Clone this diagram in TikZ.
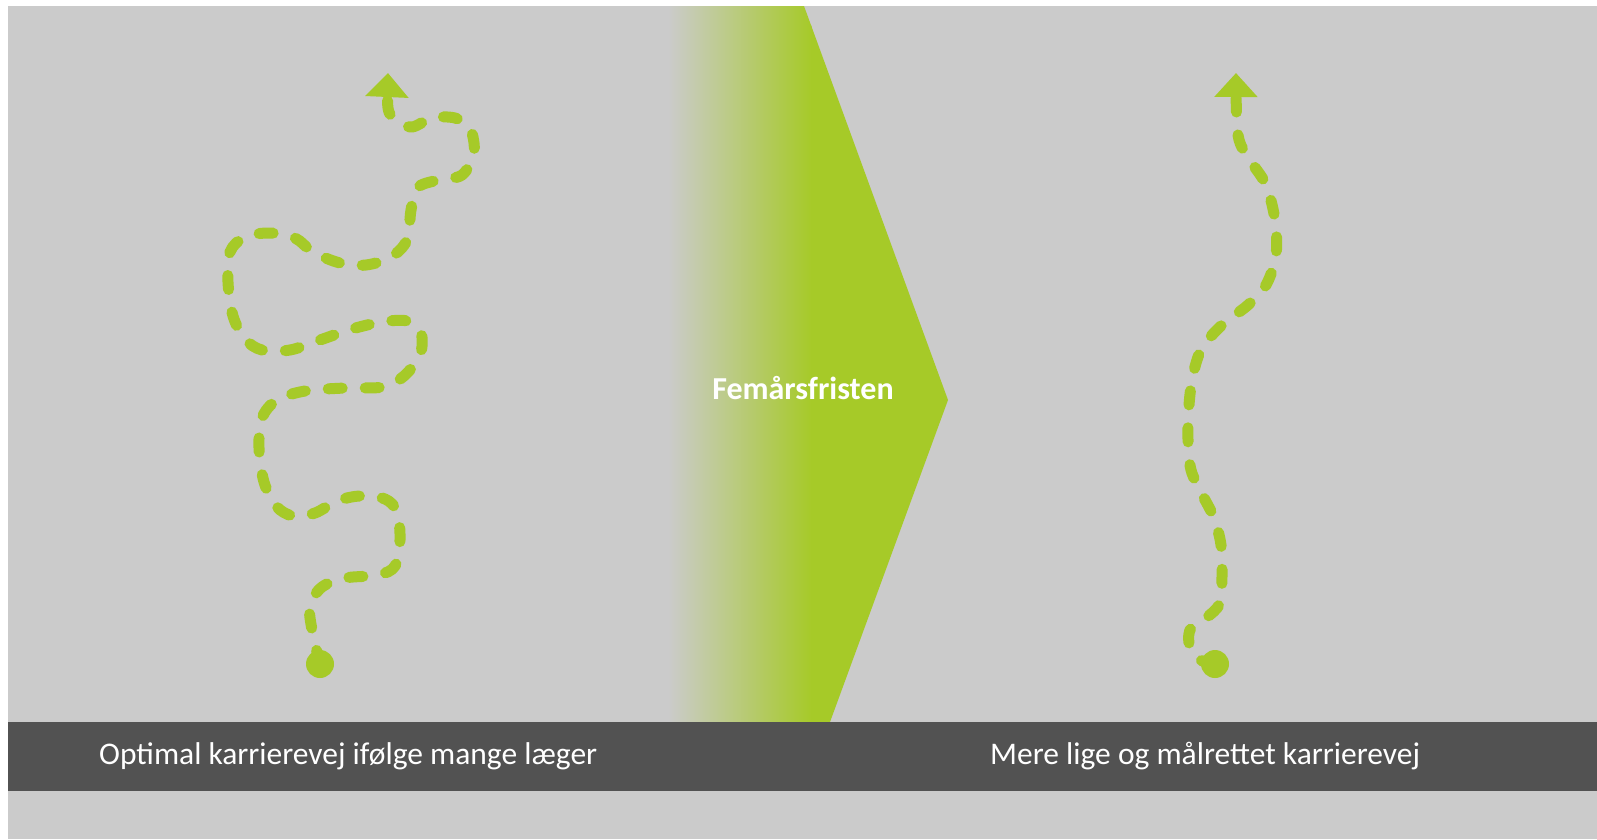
\documentclass[tikz,border=0pt]{standalone}
\usepackage{fontspec}
\setmainfont{Carlito}
\usetikzlibrary{arrows.meta}
\definecolor{bgcol}{RGB}{203,203,203}
\definecolor{barcol}{RGB}{82,82,82}
\definecolor{lime}{RGB}{166,202,40}
\tikzset{
  trail/.style={draw=lime, line width=11pt, line cap=round, line join=round,
    dash pattern=on 14pt off 23pt, -{Triangle[width=42pt,length=24pt]}},
  startdot/.style={circle, fill=lime, minimum size=28pt, inner sep=0pt},
  bartext/.style={text=white, font=\fontsize{31.5}{36}\selectfont, anchor=west, inner sep=0pt},
  headtext/.style={text=white, font=\bfseries\fontsize{32}{36}\selectfont, inner sep=0pt},
}
\begin{document}
\begin{tikzpicture}[x=1pt,y=-1pt]
\useasboundingbox (0,0) rectangle (1597,839);
\fill[white] (0,0) rectangle (1597,839);
\fill[bgcol] (8,6) rectangle (1597,839);
% big arrow with gradient
\begin{scope}
  \clip (668,6) -- (804,6) -- (948,400) -- (830,722) -- (668,722) -- cycle;
  \shade[left color=bgcol, right color=lime] (668,6) rectangle (812,722);
  \fill[lime] (811,6) rectangle (950,722);
\end{scope}
\node[headtext] (femaar) at (803,388) {Femårsfristen};
% bar
\fill[barcol] (8,722) rectangle (1597,791);
\node[bartext] (ltxt) at (99,756) {Optimal karrierevej ifølge mange læger};
\node[bartext] (rtxt) at (990,756) {Mere lige og målrettet karrierevej};
% left winding path
\node[startdot] (ldot) at (320,664) {};
\coordinate (lend) at (388,73);
\draw[trail] plot[smooth, tension=0.55] coordinates {
  (ldot.center) (312,630) (310,605) (322,587) (345,578) (378,575) (395,566) (400,540)
  (397,512) (385,499) (360,496) (337,501) (315,513) (293,516) (276,506) (264,482)
  (259,448) (262,418) (277,400) (305,391) (345,388) (383,387) (404,376) (420,355)
  (421,333) (407,321) (382,322) (352,329) (320,340) (290,350) (262,350) (245,339)
  (233,316) (228,282) (230,252) (245,237) (270,233) (295,238) (313,252) (340,263)
  (366,265) (391,257) (407,240) (411,210) (417,188) (438,180) (462,175) (474,153)
  (470,128) (455,118) (432,118) (412,127) (396,121) (388,108) (lend)};
% right path
\node[startdot] (rdot) at (1215,664) {};
\coordinate (rend) at (1236,73);
\draw[trail] plot[smooth, tension=0.55] coordinates {
  (rdot.center) (1196,658) (1189,643) (1191,628) (1206,618) (1220,603) (1222,575)
  (1221,545) (1214,518) (1202,494) (1191,470) (1188,440) (1189,405) (1193,375)
  (1202,348) (1222,325) (1248,305) (1266,285) (1276,255) (1275,220) (1266,185)
  (1250,160) (1238,135) (rend)};
\end{tikzpicture}
\end{document}
